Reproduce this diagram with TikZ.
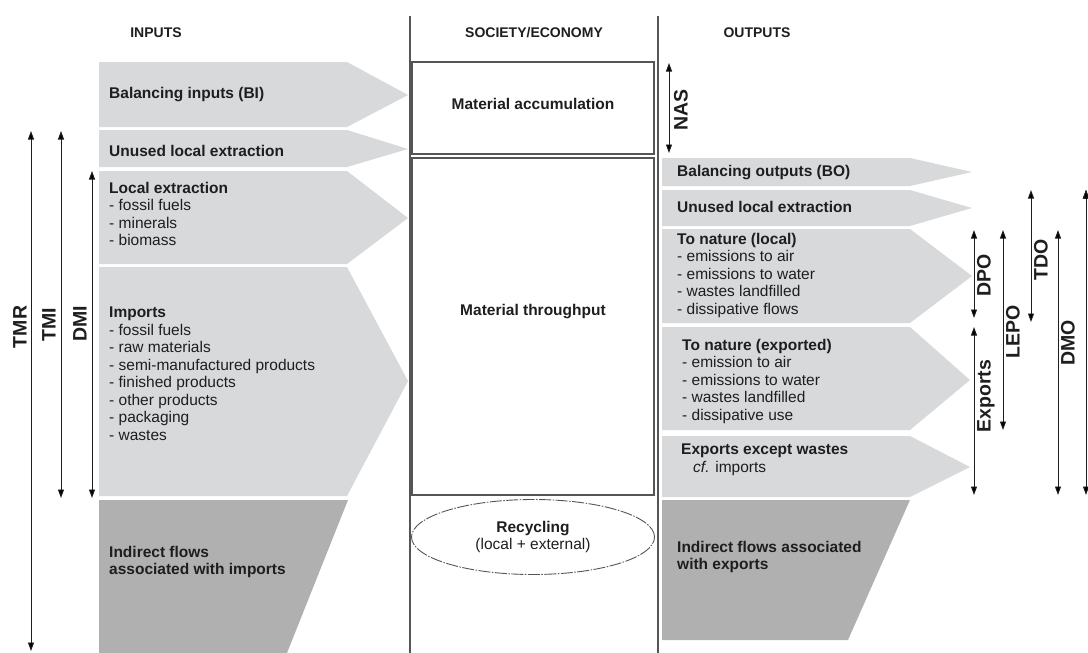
\documentclass[tikz,border=0pt]{standalone}
\usepackage{fontspec}
\setmainfont{Liberation Sans}
\usetikzlibrary{arrows.meta,positioning,shapes}

\definecolor{flowlight}{HTML}{D8D9DA}
\definecolor{flowdark}{HTML}{B0B0B0}
\definecolor{ink}{HTML}{1E1E1E}
\definecolor{frame}{HTML}{555555}

\begin{document}
\begin{tikzpicture}[x=1pt, y=-1pt, >={Triangle[length=8.5pt,width=6pt]},
  flow/.style={fill=flowlight, draw=none},
  indirect/.style={fill=flowdark, draw=none},
  hdr/.style={inner sep=0pt, font=\bfseries\fontsize{14}{14}\selectfont, text=ink},
  ttl/.style={anchor=west, inner sep=0pt, font=\bfseries\fontsize{15.5}{17.5}\selectfont, text=ink},
  blk/.style={anchor=north west, align=left, inner sep=0pt, font=\fontsize{15.5}{17.5}\selectfont, text=ink},
  meas/.style={<->, line width=0.9pt, draw=ink},
  measlbl/.style={rotate=90, inner sep=0pt, font=\bfseries\fontsize{19.5}{19.5}\selectfont, text=ink},
  box/.style={draw=frame, line width=1.1pt}]
   \useasboundingbox (0,0) rectangle (1088,653);

   % headers
   \node[hdr] (hin) at (156,33) {INPUTS};
   \node[hdr] (hsoc) at (534,33) {SOCIETY/ECONOMY};
   \node[hdr] (hout) at (757,33) {OUTPUTS};

   % column lines
   \coordinate (colLT) at (410,16);
   \coordinate (colLB) at (410,653);
   \coordinate (colRT) at (658,16);
   \coordinate (colRB) at (658,653);
   \draw[box] (colLT) -- (colLB);
   \draw[box] (colRT) -- (colRB);

   % input flows
   \fill[flow] (99,62) -- (347,62) -- (408,95) -- (347,127) -- (99,127) -- cycle;
   \fill[flow] (99,130) -- (347,130) -- (408,149) -- (347,167) -- (99,167) -- cycle;
   \fill[flow] (99,171) -- (347,171) -- (408,218) -- (347,264) -- (99,264) -- cycle;
   \fill[flow] (99,267) -- (347,267) -- (408,381) -- (347,496) -- (99,496) -- cycle;
   \fill[indirect] (99,500) -- (348,500) -- (287,653) -- (99,653) -- cycle;

   \node[ttl] (bi) at (109,95) {Balancing inputs (BI)};
   \node[ttl] (uleIn) at (109,151) {Unused local extraction};
   \node[blk] (le) at (109,182) {\textbf{Local extraction}\\- fossil fuels\\- minerals\\- biomass};
   \node[blk] (imp) at (109,307) {\textbf{Imports}\\- fossil fuels\\- raw materials\\- semi-manufactured products\\- finished products\\- other products\\- packaging\\- wastes};
   \node[blk] (indIn) at (109,546) {\textbf{Indirect flows}\\\textbf{associated with imports}};

   % society / economy
   \draw[box] (412,62) rectangle (654,154);
   \draw[box] (412,158) rectangle (654,495);
   \node[hdr, font=\bfseries\fontsize{15.5}{17.5}\selectfont] (accum) at (533,104) {Material accumulation};
   \node[hdr, font=\bfseries\fontsize{15.5}{17.5}\selectfont] (thru) at (533,312) {Material throughput};
   \node[ellipse, draw=frame, line width=0.9pt, dash pattern=on 12pt off 1.5pt on 1.5pt off 1.5pt,
         minimum width=243pt, minimum height=75pt, inner sep=0pt, align=center,
         font=\fontsize{15.5}{17.5}\selectfont, text=ink] (recyc) at (533,537)
         {\textbf{Recycling}\\(local + external)};

   % output flows
   \fill[flow] (662,158) -- (910,158) -- (972,172) -- (910,186) -- (662,186) -- cycle;
   \fill[flow] (662,190) -- (910,190) -- (972,208) -- (910,226) -- (662,226) -- cycle;
   \fill[flow] (662,229) -- (910,229) -- (972,276) -- (910,323) -- (662,323) -- cycle;
   \fill[flow] (662,327) -- (910,327) -- (970,380) -- (910,430) -- (662,430) -- cycle;
   \fill[flow] (662,436) -- (910,436) -- (970,467) -- (910,497) -- (662,497) -- cycle;
   \fill[indirect] (662,500) -- (910,500) -- (848,640) -- (662,640) -- cycle;

   \node[ttl] (bo) at (677,173) {Balancing outputs (BO)};
   \node[ttl] (uleOut) at (677,207) {Unused local extraction};
   \node[blk] (natLoc) at (677,233) {\textbf{To nature (local)}\\- emissions to air\\- emissions to water\\- wastes landfilled\\- dissipative flows};
   \node[blk] (natExp) at (682,339) {\textbf{To nature (exported)}\\- emission to air\\- emissions to water\\- wastes landfilled\\- dissipative use};
   \node[blk] (expo) at (681,444) {\textbf{Exports except wastes}\\\hspace*{12pt}\textit{cf.} imports};
   \node[blk] (indOut) at (677,541) {\textbf{Indirect flows associated}\\\textbf{with exports}};

   % indicator spans, inputs side
   \coordinate (tmrT) at (31,131);
   \coordinate (tmrB) at (31,651);
   \coordinate (tmiT) at (61,131);
   \coordinate (tmiB) at (61,498);
   \coordinate (dmiT) at (92,171);
   \coordinate (dmiB) at (92,498);
   \node[measlbl] (tmr) at (20,327) {TMR};
   \node[measlbl] (tmi) at (49,325) {TMI};
   \node[measlbl] (dmi) at (80,324) {DMI};

   % indicator spans, outputs side
   \coordinate (nasT) at (669,63);
   \coordinate (nasB) at (669,153);
   \coordinate (dpoT) at (974,230);
   \coordinate (dpoB) at (974,318);
   \coordinate (expT) at (974,327);
   \coordinate (expB) at (974,495);
   \coordinate (lepoT) at (1003,230);
   \coordinate (lepoB) at (1003,430);
   \coordinate (tdoT) at (1031,190);
   \coordinate (tdoB) at (1031,322);
   \coordinate (dmoT) at (1058,230);
   \coordinate (dmoB) at (1058,495);
   \coordinate (tmoT) at (1086,190);
   \coordinate (tmoB) at (1086,495);
   \node[measlbl] (nas) at (681,110) {NAS};
   \node[measlbl] (dpo) at (984,275) {DPO};
   \node[measlbl] (exps) at (986,396) {Exports};
   \node[measlbl] (lepo) at (1013,332) {LEPO};
   \node[measlbl] (tdo) at (1041,260) {TDO};
   \node[measlbl] (dmo) at (1068,343) {DMO};

  \path[meas]
    (tmrT) edge (tmrB)
    (tmiT) edge (tmiB)
    (dmiT) edge (dmiB)
    (nasT) edge (nasB)
    (dpoT) edge (dpoB)
    (expT) edge (expB)
    (lepoT) edge (lepoB)
    (tdoT) edge (tdoB)
    (dmoT) edge (dmoB)
    (tmoT) edge (tmoB);
\end{tikzpicture}
\end{document}
